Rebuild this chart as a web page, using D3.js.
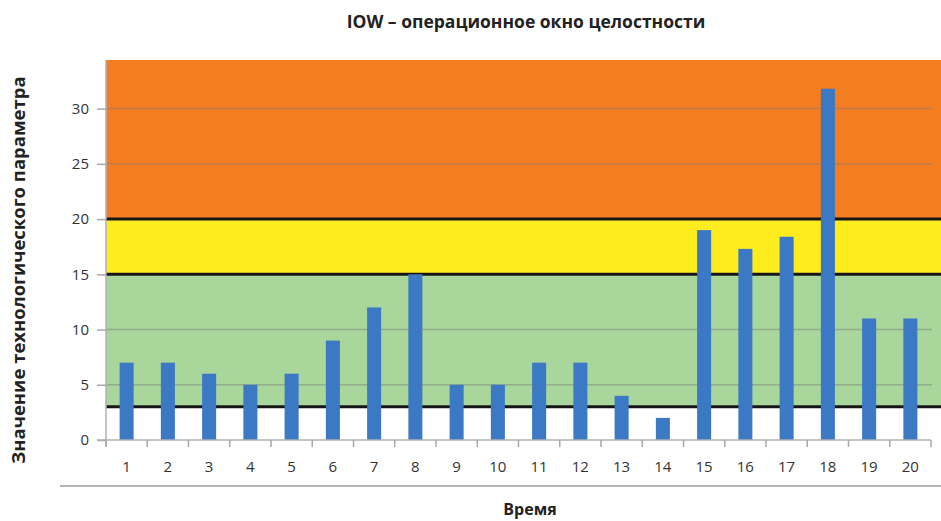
<!DOCTYPE html>
<html>
<head>
<meta charset="utf-8">
<script src="https://cdn.jsdelivr.net/npm/d3@7"></script>
<style>
  body { margin: 0; background: #fff; }
  text { font-family: "Open Sans", sans-serif; }
</style>
</head>
<body>
<div id="chart"></div>
<script>
// values
const categories = d3.range(1, 21).map(String);
const values = [7, 7, 6, 5, 6, 9, 12, 15, 5, 5, 7, 7, 4, 2, 19, 17.3, 18.4, 31.8, 11, 11];
const yTicks = [0, 5, 10, 15, 20, 25, 30];
const gridTicks = [5, 10, 25, 30];
// integrity operating window zones
const zones = [
  {from: 0, to: 3, color: "#ffffff"},
  {from: 3, to: 15, color: "#a9d69b"},
  {from: 15, to: 20, color: "#ffec1f"},
  {from: 20, to: 34.4, color: "#f47d22"}
];
const limits = [3, 15, 20];

const W = 941, H = 521;
const margin = {top: 60, right: 10, bottom: 81, left: 106};

const svg = d3.select("#chart").append("svg")
  .attr("width", W).attr("height", H);

const x = d3.scaleBand()
  .domain(categories)
  .range([margin.left, W - margin.right])
  .paddingInner(0.66).paddingOuter(0.33);
const xOuter = d3.scaleBand().domain(categories).range([margin.left, W - margin.right]);

const y = d3.scaleLinear()
  .domain([0, 34.4])
  .range([H - margin.bottom, margin.top]);

// zones (extend to the right edge of the picture)
svg.append("g").selectAll("rect").data(zones).enter().append("rect")
  .attr("x", margin.left)
  .attr("width", W - margin.left)
  .attr("y", d => y(d.to))
  .attr("height", d => y(d.from) - y(d.to))
  .attr("fill", d => d.color);

// grid lines
svg.append("g").selectAll("line").data(gridTicks).enter().append("line")
  .attr("x1", margin.left).attr("x2", W - margin.right + 1)
  .attr("y1", d => y(d)).attr("y2", d => y(d))
  .attr("stroke", "#7a7a7a").attr("stroke-opacity", 0.45).attr("stroke-width", 1.5);

// limit lines
svg.append("g").selectAll("line").data(limits).enter().append("line")
  .attr("x1", margin.left).attr("x2", W)
  .attr("y1", d => y(d)).attr("y2", d => y(d))
  .attr("stroke", "#161616").attr("stroke-width", 3);

// bars
svg.append("g").selectAll("rect").data(values).enter().append("rect")
  .attr("x", (d, i) => x(categories[i]))
  .attr("width", x.bandwidth())
  .attr("y", d => y(d))
  .attr("height", d => y(0) - y(d))
  .attr("fill", "#3b79c4");

// y axis
const yAxis = svg.append("g")
  .attr("transform", `translate(${margin.left},0)`)
  .call(d3.axisLeft(y).tickValues(yTicks).tickSize(9).tickPadding(8));
yAxis.select(".domain").attr("stroke", "#b0b0b0").attr("stroke-width", 1.5)
  .attr("d", `M0,${y(0) + 7}V${margin.top}`);
yAxis.selectAll(".tick line").attr("stroke", "#a8a8a8").attr("stroke-width", 1.5);
yAxis.selectAll(".tick text").attr("font-size", 15).attr("fill", "#333")
  .attr("font-family", "Open Sans, sans-serif");

// x axis: baseline, boundary ticks, labels
const xg = svg.append("g").attr("transform", `translate(0,${y(0)})`);
xg.append("line").attr("x1", margin.left - 9).attr("x2", W - margin.right)
  .attr("stroke", "#b0b0b0").attr("stroke-width", 1.5);
const bounds = categories.map(c => xOuter(c)).concat([W - margin.right]);
xg.selectAll(".bt").data(bounds).enter().append("line")
  .attr("x1", d => d).attr("x2", d => d).attr("y1", 0).attr("y2", 7)
  .attr("stroke", "#a8a8a8").attr("stroke-width", 1.5);
xg.selectAll(".lbl").data(categories).enter().append("text")
  .attr("x", d => xOuter(d) + xOuter.bandwidth() / 2)
  .attr("y", 32)
  .attr("text-anchor", "middle")
  .attr("font-size", 15).attr("fill", "#333")
  .text(d => d);

// separator line below axis
svg.append("line").attr("x1", 60).attr("x2", W)
  .attr("y1", 486).attr("y2", 486)
  .attr("stroke", "#b4b4b4").attr("stroke-width", 2);

// titles
svg.append("text").attr("x", 526).attr("y", 28)
  .attr("text-anchor", "middle").attr("font-size", 17.5).attr("font-weight", "bold")
  .attr("fill", "#222")
  .text("IOW – операционное окно целостности");

svg.append("text").attr("x", 530).attr("y", 515)
  .attr("text-anchor", "middle").attr("font-size", 16).attr("font-weight", "bold")
  .attr("fill", "#222")
  .text("Время");

svg.append("text")
  .attr("transform", `translate(25,270) rotate(-90)`)
  .attr("text-anchor", "middle").attr("font-size", 18.5).attr("font-weight", "bold")
  .attr("fill", "#222")
  .text("Значение технологического параметра");
</script>
</body>
</html>
